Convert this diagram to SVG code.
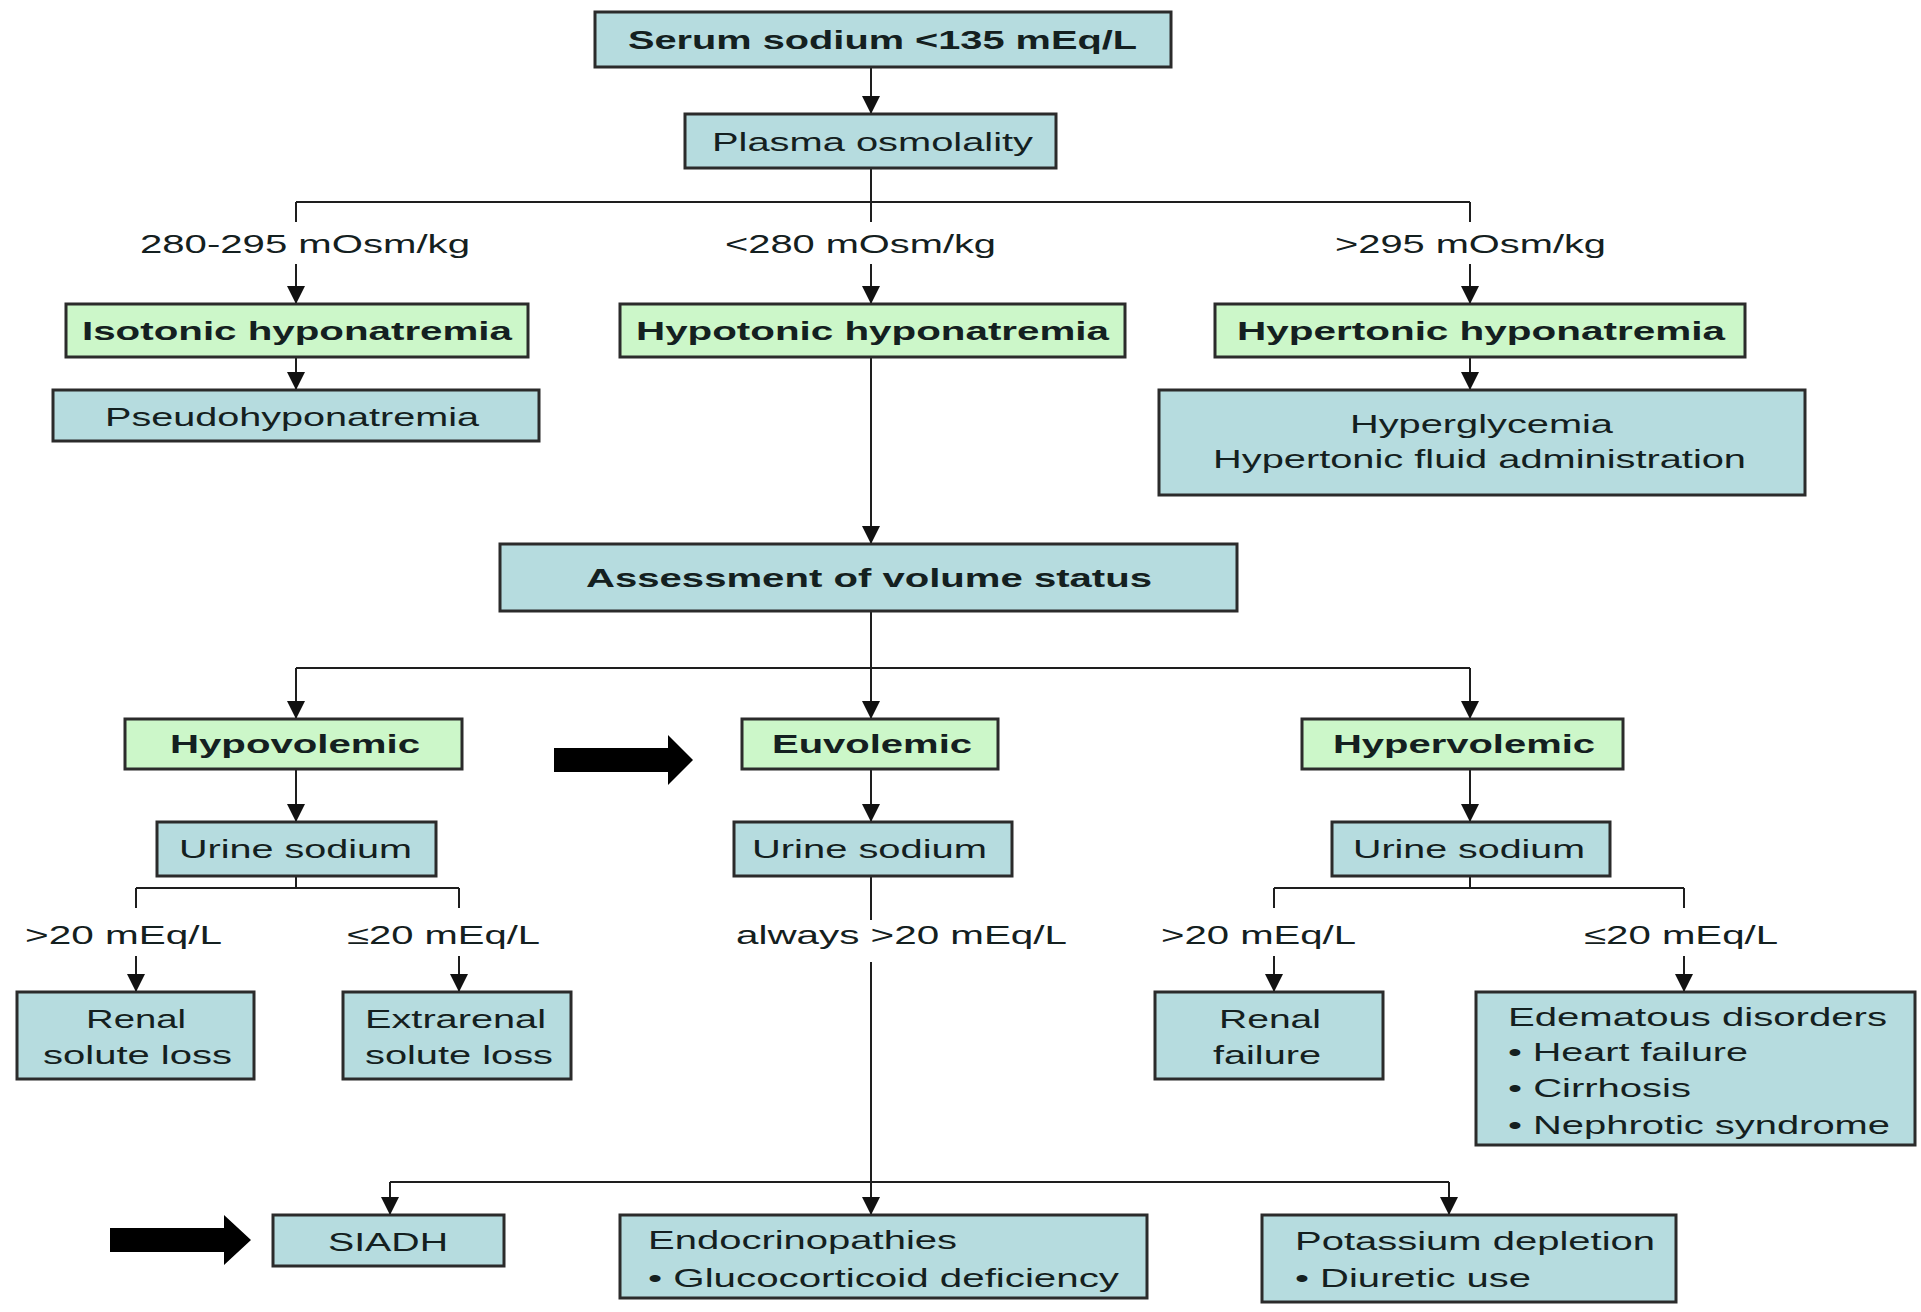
<svg xmlns="http://www.w3.org/2000/svg" width="1921" height="1312" viewBox="0 0 1921 1312">
  <defs>
    <marker id="ah" markerUnits="userSpaceOnUse" markerWidth="18" markerHeight="18" viewBox="0 0 18 18" refX="18" refY="9" orient="auto">
      <path d="M0,0 L18,9 L0,18 z" fill="#111"/>
    </marker>
    <style>
      .bx { fill: #b6dcdf; stroke: #2b2b2b; stroke-width: 3; }
      .gn { fill: #ccf7c9; stroke: #2b2b2b; stroke-width: 3; }
      .t { font-family: "Liberation Sans", Arial, sans-serif; font-size: 26px; fill: #142020; }
      .b { font-weight: bold; }
      .c { fill: none; stroke: #1e1e1e; stroke-width: 2; }
      .ca { fill: none; stroke: #1e1e1e; stroke-width: 2; marker-end: url(#ah); }
      .big { fill: #000; }
    </style>
  </defs>
  <rect width="1921" height="1312" fill="#fff"/>

  <!-- connectors -->
  <g id="connectors">
    <path class="ca" d="M871,67 V114"/>
    <path class="c" d="M871,168 V222 M296,202 H1470 M296,202 V222 M1470,202 V222"/>
    <path class="ca" d="M296,264 V304"/>
    <path class="ca" d="M871,264 V304"/>
    <path class="ca" d="M1470,264 V304"/>
    <path class="ca" d="M296,357 V390"/>
    <path class="ca" d="M1470,357 V390"/>
    <path class="ca" d="M871,357 V544"/>
    <path class="c" d="M296,668 H1470"/>
    <path class="ca" d="M871,611 V719"/>
    <path class="ca" d="M296,668 V719"/>
    <path class="ca" d="M1470,668 V719"/>
    <path class="ca" d="M296,769 V822"/>
    <path class="ca" d="M871,769 V822"/>
    <path class="ca" d="M1470,769 V822"/>
    <!-- hypovolemic urine sodium split -->
    <path class="c" d="M296,876 V888 M136,888 H459 M136,888 V908 M459,888 V908"/>
    <path class="ca" d="M136,956 V992"/>
    <path class="ca" d="M459,956 V992"/>
    <!-- euvolemic path -->
    <path class="c" d="M871,876 V920 M871,962 V1182"/>
    <!-- hypervolemic urine sodium split -->
    <path class="c" d="M1470,876 V888 M1274,888 H1684 M1274,888 V908 M1684,888 V908"/>
    <path class="ca" d="M1274,956 V992"/>
    <path class="ca" d="M1684,956 V992"/>
    <!-- euvolemic causes -->
    <path class="c" d="M390,1182 H1449"/>
    <path class="ca" d="M390,1182 V1215"/>
    <path class="ca" d="M871,1182 V1215"/>
    <path class="ca" d="M1449,1182 V1215"/>
  </g>

  <!-- branch labels -->
  <g id="labels">
    <text class="t" x="140" y="253" textLength="330" lengthAdjust="spacingAndGlyphs">280-295 mOsm/kg</text>
    <text class="t" x="725" y="253" textLength="271" lengthAdjust="spacingAndGlyphs">&lt;280 mOsm/kg</text>
    <text class="t" x="1335" y="253" textLength="271" lengthAdjust="spacingAndGlyphs">&gt;295 mOsm/kg</text>
    <text class="t" x="25" y="944" textLength="197" lengthAdjust="spacingAndGlyphs">&gt;20 mEq/L</text>
    <text class="t" x="347" y="944" textLength="193" lengthAdjust="spacingAndGlyphs">≤20 mEq/L</text>
    <text class="t" x="736" y="944" textLength="331" lengthAdjust="spacingAndGlyphs">always &gt;20 mEq/L</text>
    <text class="t" x="1161" y="944" textLength="195" lengthAdjust="spacingAndGlyphs">&gt;20 mEq/L</text>
    <text class="t" x="1584" y="944" textLength="194" lengthAdjust="spacingAndGlyphs">≤20 mEq/L</text>
  </g>

  <g id="serum">
    <rect class="bx" x="595" y="12" width="576" height="55"/>
    <text class="t b" x="628" y="49" textLength="509" lengthAdjust="spacingAndGlyphs">Serum sodium &lt;135 mEq/L</text>
  </g>
  <g id="plasma">
    <rect class="bx" x="685" y="114" width="371" height="54"/>
    <text class="t" x="712" y="151" textLength="321" lengthAdjust="spacingAndGlyphs">Plasma osmolality</text>
  </g>
  <g id="isotonic">
    <rect class="gn" x="66" y="304" width="462" height="53"/>
    <text class="t b" x="82" y="340" textLength="430" lengthAdjust="spacingAndGlyphs">Isotonic hyponatremia</text>
  </g>
  <g id="hypotonic">
    <rect class="gn" x="620" y="304" width="505" height="53"/>
    <text class="t b" x="636" y="340" textLength="473" lengthAdjust="spacingAndGlyphs">Hypotonic hyponatremia</text>
  </g>
  <g id="hypertonic">
    <rect class="gn" x="1215" y="304" width="530" height="53"/>
    <text class="t b" x="1237" y="340" textLength="488" lengthAdjust="spacingAndGlyphs">Hypertonic hyponatremia</text>
  </g>
  <g id="pseudo">
    <rect class="bx" x="53" y="390" width="486" height="51"/>
    <text class="t" x="105" y="426" textLength="374" lengthAdjust="spacingAndGlyphs">Pseudohyponatremia</text>
  </g>
  <g id="hyperglycemia">
    <rect class="bx" x="1159" y="390" width="646" height="105"/>
    <text class="t" x="1350" y="433" textLength="263" lengthAdjust="spacingAndGlyphs">Hyperglycemia</text>
    <text class="t" x="1213" y="468" textLength="533" lengthAdjust="spacingAndGlyphs">Hypertonic fluid administration</text>
  </g>
  <g id="assessment">
    <rect class="bx" x="500" y="544" width="737" height="67"/>
    <text class="t b" x="586" y="587" textLength="566" lengthAdjust="spacingAndGlyphs">Assessment of volume status</text>
  </g>
  <g id="hypovolemic">
    <rect class="gn" x="125" y="719" width="337" height="50"/>
    <text class="t b" x="170" y="753" textLength="250" lengthAdjust="spacingAndGlyphs">Hypovolemic</text>
  </g>
  <g id="euvolemic">
    <rect class="gn" x="742" y="719" width="256" height="50"/>
    <text class="t b" x="772" y="753" textLength="200" lengthAdjust="spacingAndGlyphs">Euvolemic</text>
  </g>
  <g id="hypervolemic">
    <rect class="gn" x="1302" y="719" width="321" height="50"/>
    <text class="t b" x="1333" y="753" textLength="262" lengthAdjust="spacingAndGlyphs">Hypervolemic</text>
  </g>
  <g id="urine-hypo">
    <rect class="bx" x="157" y="822" width="279" height="54"/>
    <text class="t" x="179" y="858" textLength="233" lengthAdjust="spacingAndGlyphs">Urine sodium</text>
  </g>
  <g id="urine-eu">
    <rect class="bx" x="734" y="822" width="278" height="54"/>
    <text class="t" x="752" y="858" textLength="235" lengthAdjust="spacingAndGlyphs">Urine sodium</text>
  </g>
  <g id="urine-hyper">
    <rect class="bx" x="1332" y="822" width="278" height="54"/>
    <text class="t" x="1353" y="858" textLength="232" lengthAdjust="spacingAndGlyphs">Urine sodium</text>
  </g>
  <g id="renal-solute">
    <rect class="bx" x="17" y="992" width="237" height="87"/>
    <text class="t" x="86" y="1028" textLength="100" lengthAdjust="spacingAndGlyphs">Renal</text>
    <text class="t" x="43" y="1064" textLength="189" lengthAdjust="spacingAndGlyphs">solute loss</text>
  </g>
  <g id="extrarenal">
    <rect class="bx" x="343" y="992" width="228" height="87"/>
    <text class="t" x="365" y="1028" textLength="181" lengthAdjust="spacingAndGlyphs">Extrarenal</text>
    <text class="t" x="365" y="1064" textLength="188" lengthAdjust="spacingAndGlyphs">solute loss</text>
  </g>
  <g id="renal-failure">
    <rect class="bx" x="1155" y="992" width="228" height="87"/>
    <text class="t" x="1219" y="1028" textLength="102" lengthAdjust="spacingAndGlyphs">Renal</text>
    <text class="t" x="1213" y="1064" textLength="108" lengthAdjust="spacingAndGlyphs">failure</text>
  </g>
  <g id="edematous">
    <rect class="bx" x="1476" y="992" width="439" height="153"/>
    <text class="t" x="1508" y="1026" textLength="379" lengthAdjust="spacingAndGlyphs">Edematous disorders</text>
    <text class="t" x="1508" y="1061" textLength="240" lengthAdjust="spacingAndGlyphs">• Heart failure</text>
    <text class="t" x="1508" y="1097" textLength="183" lengthAdjust="spacingAndGlyphs">• Cirrhosis</text>
    <text class="t" x="1508" y="1134" textLength="382" lengthAdjust="spacingAndGlyphs">• Nephrotic syndrome</text>
  </g>
  <g id="siadh">
    <rect class="bx" x="273" y="1215" width="231" height="51"/>
    <text class="t" x="328" y="1251" textLength="120" lengthAdjust="spacingAndGlyphs">SIADH</text>
  </g>
  <g id="endocrinopathies">
    <rect class="bx" x="620" y="1215" width="527" height="83"/>
    <text class="t" x="648" y="1249" textLength="309" lengthAdjust="spacingAndGlyphs">Endocrinopathies</text>
    <text class="t" x="648" y="1287" textLength="471" lengthAdjust="spacingAndGlyphs">• Glucocorticoid deficiency</text>
  </g>
  <g id="potassium">
    <rect class="bx" x="1262" y="1215" width="414" height="87"/>
    <text class="t" x="1295" y="1250" textLength="360" lengthAdjust="spacingAndGlyphs">Potassium depletion</text>
    <text class="t" x="1295" y="1287" textLength="236" lengthAdjust="spacingAndGlyphs">• Diuretic use</text>
  </g>

  <!-- emphasis arrows -->
  <g id="pointer-euvolemic">
    <path class="big" d="M554,748 H668 V735 L693,760 L668,785 V772 H554 z"/>
  </g>
  <g id="pointer-siadh">
    <path class="big" d="M110,1228 H224 V1215 L251,1240 L224,1265 V1252 H110 z"/>
  </g>
</svg>
